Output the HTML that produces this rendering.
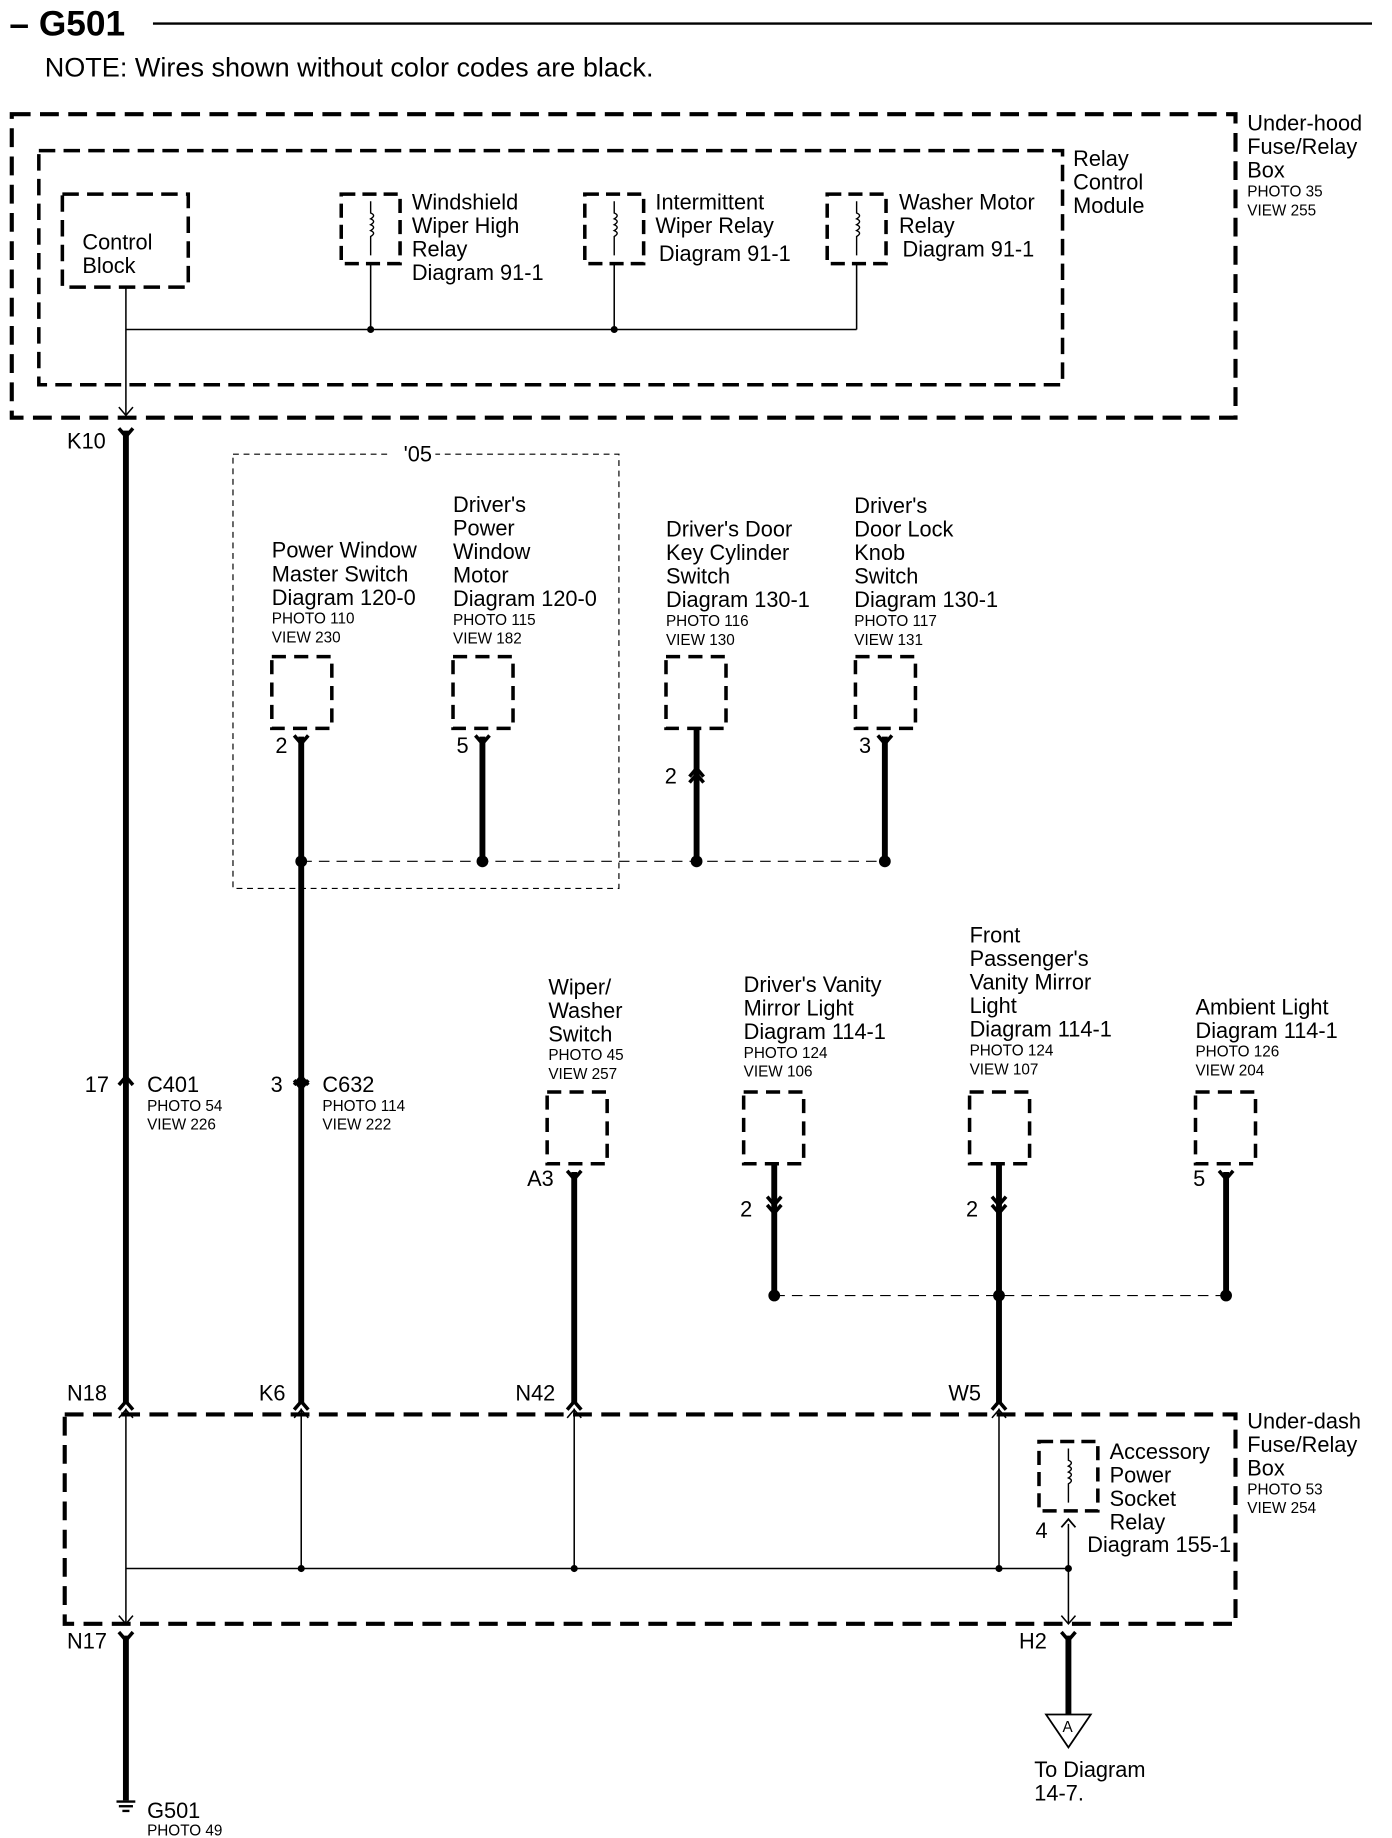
<!DOCTYPE html>
<html><head><meta charset="utf-8"><style>
html,body{margin:0;padding:0;background:#fff}
svg{display:block}
text{font-family:"Liberation Sans",Arial,sans-serif;fill:#000}
.t{font-size:18.5px}
.s{font-size:13px}
</style></head><body>
<svg width="1392" height="1838" viewBox="0 0 1183 1562" preserveAspectRatio="none" xmlns="http://www.w3.org/2000/svg">
<defs>
<g id="chev"><path d="M-6,-6 L0,1 L6,-6" fill="none" stroke="#000" stroke-width="3"/></g>
<g id="chevu"><path d="M-6,6 L0,-1 L6,6" fill="none" stroke="#000" stroke-width="3"/></g>
<g id="coil"><rect x="-25" y="0" width="50" height="59" fill="none" stroke="#000" stroke-width="3" stroke-dasharray="12,6"/><path d="M0,6 V16 q5,2 0,5 q5,2 0,5 q5,2 0,5 q5,2 0,5 V52" fill="none" stroke="#000" stroke-width="1.2"/></g>
<rect id="cb" width="51" height="61" fill="none" stroke="#000" stroke-width="3" stroke-dasharray="12,7"/>
</defs>
<text x="8" y="30" style="font-size:30px;font-weight:bold">– G501</text>
<line x1="130" y1="20" x2="1166" y2="20" stroke="#000" stroke-width="2"/>
<text x="38" y="65" style="font-size:23px">NOTE: Wires shown without color codes are black.</text>

<rect x="10" y="97" width="1040" height="258" fill="none" stroke="#000" stroke-width="3.5" stroke-dasharray="16,8"/>
<rect x="33" y="128" width="870" height="199" fill="none" stroke="#000" stroke-width="3" stroke-dasharray="14,7"/>
<g class="t"><text x="1060" y="111">Under-hood</text><text x="1060" y="131">Fuse/Relay</text><text x="1060" y="151">Box</text></g>
<g class="s"><text x="1060" y="167">PHOTO 35</text><text x="1060" y="183">VIEW 255</text></g>
<g class="t"><text x="912" y="141">Relay</text><text x="912" y="161">Control</text><text x="912" y="181">Module</text></g>
<rect x="53" y="165" width="107" height="79" fill="none" stroke="#000" stroke-width="3" stroke-dasharray="14,7"/>
<g class="t"><text x="70" y="212">Control</text><text x="70" y="232">Block</text></g>
<use href="#coil" x="315" y="165"/><use href="#coil" x="522" y="165"/><use href="#coil" x="728" y="165"/>
<g class="t"><text x="350" y="178">Windshield</text><text x="350" y="198">Wiper High</text><text x="350" y="218">Relay</text><text x="350" y="238">Diagram 91-1</text>
<text x="557" y="178">Intermittent</text><text x="557" y="198">Wiper Relay</text><text x="560" y="222">Diagram 91-1</text>
<text x="764" y="178">Washer Motor</text><text x="764" y="198">Relay</text><text x="767" y="218">Diagram 91-1</text></g>
<g stroke="#000" stroke-width="1.3" fill="none">
<path d="M107,244 V352 M107,280 H728 M315,224 V280 M522,224 V280 M728,224 V280"/>
<path d="M101,346 L107,353 L113,346"/>
</g>
<circle cx="315" cy="280" r="3"/><circle cx="522" cy="280" r="3"/>

<text x="57" y="381" class="t">K10</text>
<use href="#chev" x="107" y="370"/>
<line x1="107" y1="366" x2="107" y2="1193" stroke="#000" stroke-width="5"/>
<use href="#chevu" x="107" y="916"/>
<text x="72" y="928" class="t">17</text><text x="125" y="928" class="t">C401</text>
<text x="125" y="944" class="s">PHOTO 54</text><text x="125" y="960" class="s">VIEW 226</text>

<rect x="198" y="386" width="328" height="369" fill="none" stroke="#000" stroke-width="1" stroke-dasharray="5,4"/>
<rect x="330" y="378" width="40" height="14" fill="#fff"/>
<text x="343" y="392" class="t">'05</text>

<g class="t">
<text x="231" y="474">Power Window</text><text x="231" y="494">Master Switch</text><text x="231" y="514">Diagram 120-0</text>
<text x="385" y="435">Driver's</text><text x="385" y="455">Power</text><text x="385" y="475">Window</text><text x="385" y="495">Motor</text><text x="385" y="515">Diagram 120-0</text>
<text x="566" y="456">Driver's Door</text><text x="566" y="476">Key Cylinder</text><text x="566" y="496">Switch</text><text x="566" y="516">Diagram 130-1</text>
<text x="726" y="436">Driver's</text><text x="726" y="456">Door Lock</text><text x="726" y="476">Knob</text><text x="726" y="496">Switch</text><text x="726" y="516">Diagram 130-1</text>
</g>
<g class="s">
<text x="231" y="530">PHOTO 110</text><text x="231" y="546">VIEW 230</text>
<text x="385" y="531">PHOTO 115</text><text x="385" y="547">VIEW 182</text>
<text x="566" y="532">PHOTO 116</text><text x="566" y="548">VIEW 130</text>
<text x="726" y="532">PHOTO 117</text><text x="726" y="548">VIEW 131</text>
</g>
<use href="#cb" x="231" y="558"/><use href="#cb" x="385" y="558"/><use href="#cb" x="566" y="558"/><use href="#cb" x="727" y="558"/>
<g stroke="#000" stroke-width="5"><line x1="256" y1="626" x2="256" y2="1193"/><line x1="410" y1="626" x2="410" y2="732"/><line x1="592" y1="619" x2="592" y2="732"/><line x1="752" y1="626" x2="752" y2="732"/></g>
<use href="#chev" x="256" y="631"/><use href="#chev" x="410" y="631"/><use href="#chev" x="752" y="631"/>
<use href="#chevu" x="592" y="654"/><use href="#chevu" x="592" y="659"/>
<g class="t"><text x="234" y="640">2</text><text x="388" y="640">5</text><text x="565" y="666">2</text><text x="730" y="640">3</text></g>
<line x1="256" y1="732" x2="752" y2="732" stroke="#000" stroke-width="1" stroke-dasharray="9,6"/>
<circle cx="256" cy="732" r="5"/><circle cx="410" cy="732" r="5"/><circle cx="592" cy="732" r="5"/><circle cx="752" cy="732" r="5"/>

<use href="#chevu" x="256" y="916"/><use href="#chev" x="256" y="924"/>
<text x="230" y="928" class="t">3</text><text x="274" y="928" class="t">C632</text>
<text x="274" y="944" class="s">PHOTO 114</text><text x="274" y="960" class="s">VIEW 222</text>

<g class="t">
<text x="466" y="845">Wiper/</text><text x="466" y="865">Washer</text><text x="466" y="885">Switch</text>
<text x="632" y="843">Driver's Vanity</text><text x="632" y="863">Mirror Light</text><text x="632" y="883">Diagram 114-1</text>
<text x="824" y="801">Front</text><text x="824" y="821">Passenger's</text><text x="824" y="841">Vanity Mirror</text><text x="824" y="861">Light</text><text x="824" y="881">Diagram 114-1</text>
<text x="1016" y="862">Ambient Light</text><text x="1016" y="882">Diagram 114-1</text>
</g>
<g class="s">
<text x="466" y="901">PHOTO 45</text><text x="466" y="917">VIEW 257</text>
<text x="632" y="899">PHOTO 124</text><text x="632" y="915">VIEW 106</text>
<text x="824" y="897">PHOTO 124</text><text x="824" y="913">VIEW 107</text>
<text x="1016" y="898">PHOTO 126</text><text x="1016" y="914">VIEW 204</text>
</g>
<use href="#cb" x="465" y="928"/><use href="#cb" x="632" y="928"/><use href="#cb" x="824" y="928"/><use href="#cb" x="1016" y="928"/>
<g stroke="#000" stroke-width="5"><line x1="488" y1="996" x2="488" y2="1193"/><line x1="658" y1="989" x2="658" y2="1101"/><line x1="849" y1="989" x2="849" y2="1193"/><line x1="1042" y1="996" x2="1042" y2="1101"/></g>
<use href="#chev" x="488" y="1001"/><use href="#chev" x="1042" y="1001"/>
<use href="#chev" x="658" y="1023"/><use href="#chev" x="658" y="1030"/><use href="#chev" x="849" y="1023"/><use href="#chev" x="849" y="1030"/>
<g class="t"><text x="448" y="1008">A3</text><text x="629" y="1034">2</text><text x="821" y="1034">2</text><text x="1014" y="1008">5</text></g>
<line x1="658" y1="1101" x2="1042" y2="1101" stroke="#000" stroke-width="1" stroke-dasharray="9,6"/>
<circle cx="658" cy="1101" r="5"/><circle cx="849" cy="1101" r="5"/><circle cx="1042" cy="1101" r="5"/>

<g class="t"><text x="57" y="1190">N18</text><text x="220" y="1190">K6</text><text x="438" y="1190">N42</text><text x="806" y="1190">W5</text></g>
<use href="#chevu" x="107" y="1192"/><use href="#chevu" x="256" y="1192"/><use href="#chevu" x="488" y="1192"/><use href="#chevu" x="849" y="1192"/>

<rect x="55" y="1202" width="995" height="178" fill="none" stroke="#000" stroke-width="3.5" stroke-dasharray="16,8"/>
<g class="t"><text x="1060" y="1214">Under-dash</text><text x="1060" y="1234">Fuse/Relay</text><text x="1060" y="1254">Box</text></g>
<g class="s"><text x="1060" y="1270">PHOTO 53</text><text x="1060" y="1286">VIEW 254</text></g>
<g stroke="#000" stroke-width="1.3" fill="none">
<path d="M107,1197 V1380 M256,1197 V1333 M488,1197 V1333 M849,1197 V1333 M107,1333 H908 M908,1295 V1380"/>
<path d="M101,1205 L107,1198 L113,1205 M250,1205 L256,1198 L262,1205 M482,1205 L488,1198 L494,1205 M843,1205 L849,1198 L855,1205 M101,1373 L107,1380 L113,1373 M902,1373 L908,1380 L914,1373"/>
</g>
<circle cx="256" cy="1333" r="3"/><circle cx="488" cy="1333" r="3"/><circle cx="849" cy="1333" r="3"/><circle cx="908" cy="1333" r="3"/>
<use href="#coil" x="908" y="1225"/>
<path d="M902,1298 L908,1291 L914,1298" stroke="#000" stroke-width="1.5" fill="none"/>
<text x="880" y="1307" class="t">4</text>
<g class="t"><text x="943" y="1240">Accessory</text><text x="943" y="1260">Power</text><text x="943" y="1280">Socket</text><text x="943" y="1300">Relay</text><text x="924" y="1319">Diagram 155-1</text></g>

<g class="t"><text x="57" y="1401">N17</text><text x="866" y="1401">H2</text></g>
<use href="#chev" x="107" y="1393"/><use href="#chev" x="908" y="1393"/>
<g stroke="#000" stroke-width="5"><line x1="107" y1="1390" x2="107" y2="1530"/><line x1="908" y1="1390" x2="908" y2="1457"/></g>
<g stroke="#000" stroke-width="2"><line x1="99" y1="1531" x2="115" y2="1531"/><line x1="101" y1="1535" x2="113" y2="1535"/><line x1="104" y1="1539" x2="110" y2="1539"/></g>
<text x="125" y="1545" class="t">G501</text><text x="125" y="1560" class="s">PHOTO 49</text>
<path d="M889,1457 H927 L908,1485 Z" fill="#fff" stroke="#000" stroke-width="1.5"/>
<text x="903" y="1472" class="s">A</text>
<g class="t"><text x="879" y="1510">To Diagram</text><text x="879" y="1530">14-7.</text></g>
</svg>
</body></html>
